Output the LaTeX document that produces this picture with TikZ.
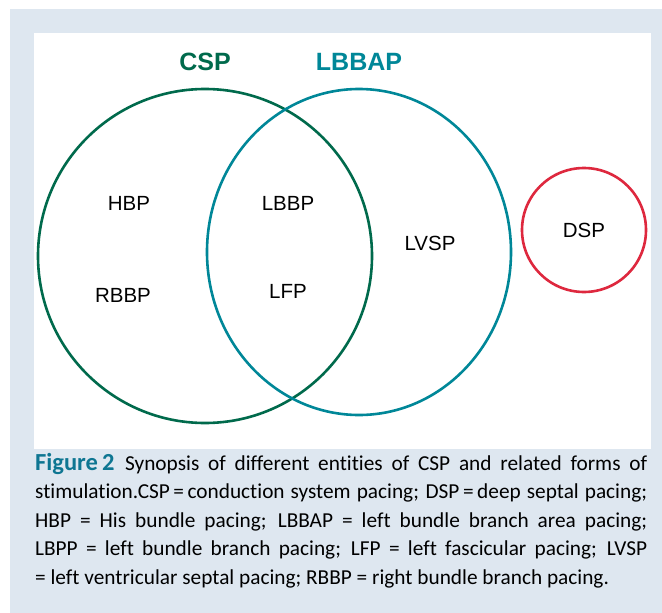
\documentclass[tikz,border=0pt]{standalone}
\usepackage{fontspec}
\setmainfont{Carlito}[Ligatures=NoCommon]
\newfontfamily\labelfont{Liberation Sans}
\definecolor{cspGreen}{RGB}{0,106,76}
\definecolor{lbbapTeal}{RGB}{0,135,152}
\definecolor{dspRed}{RGB}{222,40,62}
\definecolor{panelBlue}{RGB}{222,231,240}
\definecolor{figureBlue}{RGB}{14,118,146}
\newcommand{\setLabel}[3]{%%
  \node[labelStyle] (#1) at (#2) {#3};
}

\begin{document}
\begin{tikzpicture}[x=1pt,y=-1pt,%%
  labelStyle/.style={font=\labelfont\fontsize{20.5}{24}\selectfont,inner sep=0pt},%%
  titleStyle/.style={font=\labelfont\bfseries\fontsize{25}{30}\selectfont,inner sep=0pt},%%
  setStyle/.style={line width=2.6pt},%%
  captionStyle/.style={text width=612pt,align=justify,inner sep=0pt,%%
    font=\fontsize{21.3}{28.5}\selectfont}
]
\useasboundingbox (0,0) rectangle (662,613);
%%
%% Panel behind the figure and white drawing area.
\fill[panelBlue] (10,9) rectangle (662,613);
\fill[white] (34,33) rectangle (651,449);
%%
\coordinate (cspCentre) at (205,256);
\coordinate (lbbapCentre) at (359,252);
\coordinate (dspCentre) at (584,230);
%%
%% The three sets.
\draw[setStyle,cspGreen] (cspCentre) circle[radius=167];
\draw[setStyle,lbbapTeal] (lbbapCentre) ellipse[x radius=152,y radius=163];
\draw[setStyle,dspRed] (dspCentre) circle[radius=62];
%%
%% Set titles.
\node[titleStyle,text=cspGreen] (cspTitle) at (205,62) {CSP};
\node[titleStyle,text=lbbapTeal] (lbbapTitle) at (359,62) {LBBAP};
%%
%% Members.
\setLabel{hbp}{129,203}{HBP}
\setLabel{rbbp}{123,295}{RBBP}
\setLabel{lbbp}{288,203}{LBBP}
\setLabel{lfp}{288,291}{LFP}
\setLabel{lvsp}{430,243}{LVSP}
\setLabel{dsp}{dspCentre}{DSP}
%%
%% Caption.
\node[captionStyle,anchor=base west] (caption) at (35,470) {%%
  {\color{figureBlue}\bfseries\fontsize{24.5}{28.5}\selectfont Figure\,2}\enspace
  Synopsis of different entities of CSP and related forms of\linebreak
  stimulation.CSP\,=\,conduction system pacing; DSP\,=\,deep septal pacing;\linebreak
  HBP = His bundle pacing; LBBAP = left bundle branch area pacing;\linebreak
  LBPP = left bundle branch pacing; LFP = left fascicular pacing; LVSP\linebreak
  = left ventricular septal pacing; RBBP = right bundle branch pacing.};
\end{tikzpicture}
\end{document}
